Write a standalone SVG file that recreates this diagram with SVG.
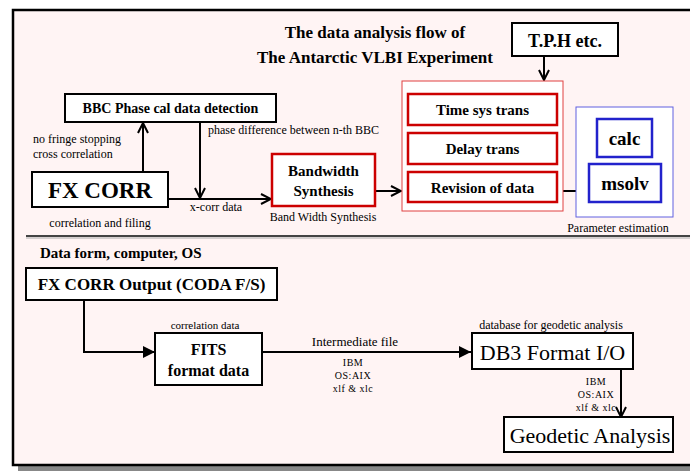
<svg xmlns="http://www.w3.org/2000/svg" width="690" height="473" viewBox="0 0 690 473">
<defs>
<marker id="v" viewBox="0 0 12 12" refX="11" refY="6" markerWidth="12" markerHeight="12" markerUnits="userSpaceOnUse" orient="auto">
<path d="M1,1 L11,6 L1,11" fill="none" stroke="#000" stroke-width="2"/>
</marker>
<marker id="tri" viewBox="0 0 12 12" refX="12" refY="6" markerWidth="12" markerHeight="12" markerUnits="userSpaceOnUse" orient="auto">
<path d="M0,0 L12,6 L0,12 Z" fill="#000"/>
</marker>
</defs>
<style>
text{font-family:"Liberation Serif","Times New Roman",serif;fill:#000}
.b{font-weight:bold}
.box{fill:#fff;stroke:#000;stroke-width:2}
.rbox{fill:#fff;stroke:#cc0000;stroke-width:2.5}
.bbox{fill:#fff;stroke:#2222cc;stroke-width:2.5}
.ln{fill:none;stroke:#000;stroke-width:2}
.s{font-size:12px}
.t{font-size:10px;letter-spacing:0.5px}
</style>
<rect x="0" y="0" width="690" height="473" fill="#fff"/>
<rect x="18" y="466" width="680" height="5" fill="#888"/>
<rect x="13" y="10" width="690" height="455" fill="#fff4f4" stroke="#000" stroke-width="2.5"/>
<line x1="26" y1="236" x2="690" y2="236" stroke="#444" stroke-width="2"/>
<line x1="26" y1="238" x2="690" y2="238" stroke="#aaa" stroke-width="1"/>

<text class="b" x="375" y="38" font-size="17" text-anchor="middle">The data analysis flow of</text>
<text class="b" x="375" y="63" font-size="17" text-anchor="middle">The Antarctic VLBI Experiment</text>

<g id="connectors">
<line class="ln" x1="143" y1="172" x2="143" y2="123" marker-end="url(#v)"/>
<line class="ln" x1="200" y1="122" x2="200" y2="198" marker-end="url(#v)"/>
<line class="ln" x1="168" y1="199" x2="271" y2="199" marker-end="url(#v)"/>
<line class="ln" x1="375" y1="191" x2="401" y2="191" marker-end="url(#v)"/>
<line class="ln" x1="544" y1="56" x2="544" y2="80" marker-end="url(#v)"/>
<line class="ln" x1="563" y1="191" x2="589" y2="191" marker-end="url(#v)"/>
<polyline class="ln" points="84,300 84,352 155,352" marker-end="url(#tri)"/>
<circle cx="262" cy="352" r="1.5" fill="#000"/>
<line class="ln" x1="262" y1="352" x2="471" y2="352" marker-end="url(#tri)"/>
<line class="ln" x1="621" y1="369" x2="621" y2="417" marker-end="url(#v)"/>
</g>

<g id="bbc">
<rect class="box" x="65" y="94" width="211" height="28"/>
<text class="b" x="170.5" y="113" font-size="14" text-anchor="middle">BBC Phase cal data detection</text>
</g>
<text class="s" x="33" y="143">no fringe stopping</text>
<text class="s" x="33" y="158">cross correlation</text>
<text class="s" x="208" y="134">phase difference between n-th BBC</text>

<g id="fxcorr">
<rect class="box" x="32" y="172" width="136" height="35"/>
<text class="b" x="100" y="198" font-size="23" text-anchor="middle">FX CORR</text>
</g>
<text class="s" x="100" y="227" text-anchor="middle">correlation and filing</text>
<text class="s" x="216" y="211" text-anchor="middle">x-corr data</text>

<g id="bandwidth">
<rect class="rbox" x="272" y="154" width="103" height="52"/>
<text class="b" x="323.5" y="176" font-size="15" text-anchor="middle">Bandwidth</text>
<text class="b" x="323.5" y="196" font-size="15" text-anchor="middle">Synthesis</text>
</g>
<text class="s" x="323" y="221" text-anchor="middle">Band Width Synthesis</text>

<g id="tph">
<rect class="box" x="512" y="23" width="106" height="33"/>
<text class="b" x="565" y="47" font-size="18" text-anchor="middle">T.P.H etc.</text>
</g>

<g id="redgroup">
<rect x="402" y="81" width="161" height="130" fill="#fff" stroke="#e04040" stroke-width="1"/>
</g>
<g id="timesys">
<rect class="rbox" x="408" y="94" width="149" height="31"/>
<text class="b" x="482.5" y="115" font-size="15" text-anchor="middle">Time sys trans</text>
</g>
<g id="delay">
<rect class="rbox" x="408" y="133" width="149" height="31"/>
<text class="b" x="482.5" y="154" font-size="15" text-anchor="middle">Delay trans</text>
</g>
<g id="revision">
<rect class="rbox" x="408" y="172" width="149" height="30"/>
<text class="b" x="482.5" y="193" font-size="15" text-anchor="middle">Revision of data</text>
</g>

<g id="bluegroup">
<rect x="576" y="107" width="97" height="110" fill="#fff" stroke="#6060e0" stroke-width="1"/>
</g>
<g id="calc">
<rect class="bbox" x="597" y="119" width="55" height="38"/>
<text class="b" x="624.5" y="145" font-size="19" text-anchor="middle">calc</text>
</g>
<g id="msolv">
<rect class="bbox" x="589" y="164" width="72" height="38"/>
<text class="b" x="625" y="190" font-size="19" text-anchor="middle">msolv</text>
</g>
<text class="s" x="618" y="232" text-anchor="middle">Parameter estimation</text>

<text class="b" x="40" y="258" font-size="15">Data form, computer, OS</text>

<g id="fxout">
<rect class="box" x="26" y="268" width="251" height="32"/>
<text class="b" x="151.5" y="290" font-size="17" text-anchor="middle">FX CORR Output (CODA F/S)</text>
</g>

<text x="205" y="329" font-size="11" text-anchor="middle">correlation data</text>
<g id="fits">
<rect class="box" x="155" y="333" width="107" height="52"/>
<text class="b" x="208.5" y="355" font-size="16" text-anchor="middle">FITS</text>
<text class="b" x="208.5" y="376" font-size="16" text-anchor="middle">format data</text>
</g>

<text x="355" y="346" font-size="13" text-anchor="middle">Intermediate file</text>
<text class="t" x="353" y="366" text-anchor="middle">IBM</text>
<text class="t" x="353" y="379" text-anchor="middle">OS:AIX</text>
<text class="t" x="353" y="392" text-anchor="middle">xlf &amp; xlc</text>

<text x="551" y="329" font-size="12" text-anchor="middle">database for geodetic analysis</text>
<g id="db3">
<rect class="box" x="472" y="333" width="161" height="36"/>
<text x="552.5" y="360" font-size="22" text-anchor="middle">DB3 Format I/O</text>
</g>
<text class="t" x="596" y="385" text-anchor="middle">IBM</text>
<text class="t" x="596" y="398" text-anchor="middle">OS:AIX</text>
<text class="t" x="596" y="411" text-anchor="middle">xlf &amp; xlc</text>

<g id="geodetic">
<rect class="box" x="504" y="417" width="169" height="35"/>
<text x="590" y="443" font-size="22" text-anchor="middle">Geodetic Analysis</text>
</g>
</svg>
